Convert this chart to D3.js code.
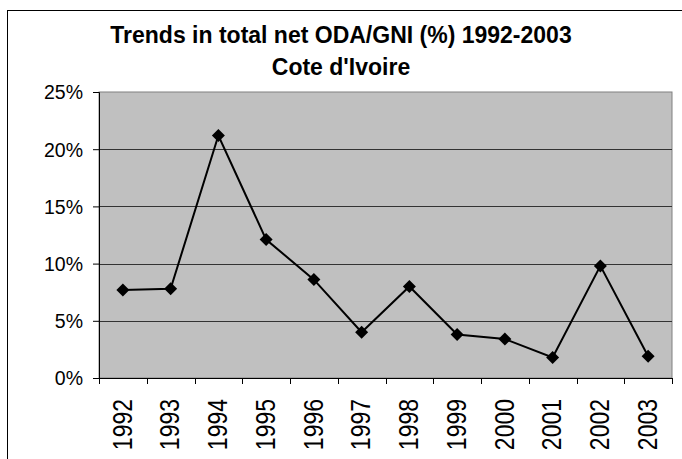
<!DOCTYPE html>
<html>
<head>
<meta charset="utf-8">
<script src="https://cdn.jsdelivr.net/npm/d3@7"></script>
<style>
  body { margin: 0; background: #fff; }
  svg text { font-family: "Liberation Sans", Arial, sans-serif; fill: #000; }
</style>
</head>
<body>
<div id="chart"></div>
<script>
// Chart data
var years = ["1992", "1993", "1994", "1995", "1996", "1997", "1998", "1999", "2000", "2001", "2002", "2003"];
var odaGni = [7.7, 7.8, 21.2, 12.1, 8.6, 4.0, 8.0, 3.8, 3.4, 1.8, 9.8, 1.9];
var yTicks = [0, 5, 10, 15, 20, 25];
var titleLines = ["Trends in total net ODA/GNI (%) 1992-2003", "Cote d'Ivoire"];

var w = 682;
var h = 459;
var plot = { left: 99, right: 672, top: 92, bottom: 378 };

var svg = d3
  .select("#chart")
  .append("svg")
  .attr("width", w)
  .attr("height", h);

// outer frame (runs off the page on the right and bottom)
svg
  .append("rect")
  .attr("x", 7.5)
  .attr("y", 10.5)
  .attr("width", 700)
  .attr("height", 500)
  .attr("fill", "#fff")
  .attr("stroke", "#000")
  .attr("stroke-width", 1);

// title
svg
  .selectAll("text.title")
  .data(titleLines)
  .enter()
  .append("text")
  .attr("class", "title")
  .attr("x", 341)
  .attr("y", function (d, i) { return 43 + i * 32; })
  .attr("text-anchor", "middle")
  .style("font-size", "23px")
  .style("font-weight", "bold")
  .text(function (d) { return d; });

// scales
var xScale = d3.scaleBand().domain(years).range([plot.left, plot.right]);
var yScale = d3.scaleLinear().domain([0, 25]).range([plot.bottom, plot.top]);

// plot background
svg
  .append("rect")
  .attr("x", plot.left)
  .attr("y", plot.top)
  .attr("width", plot.right - plot.left)
  .attr("height", plot.bottom - plot.top)
  .attr("fill", "#c0c0c0")
  .attr("stroke", "#808080")
  .attr("stroke-width", 1);

// gridlines
svg
  .selectAll("line.grid")
  .data(yTicks.slice(1, -1))
  .enter()
  .append("line")
  .attr("class", "grid")
  .attr("x1", plot.left)
  .attr("x2", plot.right)
  .attr("y1", function (d) { return Math.round(yScale(d)) + 0.5; })
  .attr("y2", function (d) { return Math.round(yScale(d)) + 0.5; })
  .attr("stroke", "#333")
  .attr("stroke-width", 1);

// y axis
var yAxis = d3
  .axisLeft(yScale)
  .tickValues(yTicks)
  .tickSize(6)
  .tickPadding(10)
  .tickFormat(function (d) { return d + "%"; });

var gy = svg
  .append("g")
  .attr("class", "y axis")
  .attr("transform", "translate(" + plot.left + ",0)")
  .call(yAxis);
gy.select(".domain").attr("stroke", "#000");
gy.selectAll(".tick line").attr("stroke", "#000");
gy.selectAll("text").style("font-size", "19.5px").attr("dy", "0.35em");

// x axis - ticks between categories
var boundaries = d3.range(years.length + 1).map(function (i) {
  return plot.left + i * xScale.step();
});
var gx = svg
  .append("g")
  .attr("class", "x axis");
gx.append("line")
  .attr("x1", plot.left)
  .attr("x2", plot.right)
  .attr("y1", plot.bottom + 0.5)
  .attr("y2", plot.bottom + 0.5)
  .attr("stroke", "#000");
gx.selectAll("line.xtick")
  .data(boundaries)
  .enter()
  .append("line")
  .attr("class", "xtick")
  .attr("x1", function (d) { return Math.round(d) + 0.5; })
  .attr("x2", function (d) { return Math.round(d) + 0.5; })
  .attr("y1", plot.bottom)
  .attr("y2", plot.bottom + 6)
  .attr("stroke", "#000");
gx.selectAll("text")
  .data(years)
  .enter()
  .append("text")
  .attr("transform", function (d) {
    return "translate(" + (xScale(d) + xScale.bandwidth() / 2 - 1) + "," + (plot.bottom + 21) + ") rotate(-90) scale(1,1.2)";
  })
  .attr("text-anchor", "end")
  .attr("dy", "0.35em")
  .style("font-size", "23px")
  .text(function (d) { return d; });

// line
var line = d3
  .line()
  .x(function (d, i) { return xScale(years[i]) + xScale.bandwidth() / 2; })
  .y(function (d) { return yScale(d); });

svg
  .append("path")
  .datum(odaGni)
  .attr("d", line)
  .attr("fill", "none")
  .attr("stroke", "#000")
  .attr("stroke-width", 2);

// diamond markers
svg
  .selectAll("path.marker")
  .data(odaGni)
  .enter()
  .append("path")
  .attr("class", "marker")
  .attr("d", d3.symbol().type(d3.symbolDiamond2).size(108))
  .attr("transform", function (d, i) {
    return "translate(" + (xScale(years[i]) + xScale.bandwidth() / 2) + "," + yScale(d) + ")";
  })
  .attr("fill", "#000");
</script>
</body>
</html>
